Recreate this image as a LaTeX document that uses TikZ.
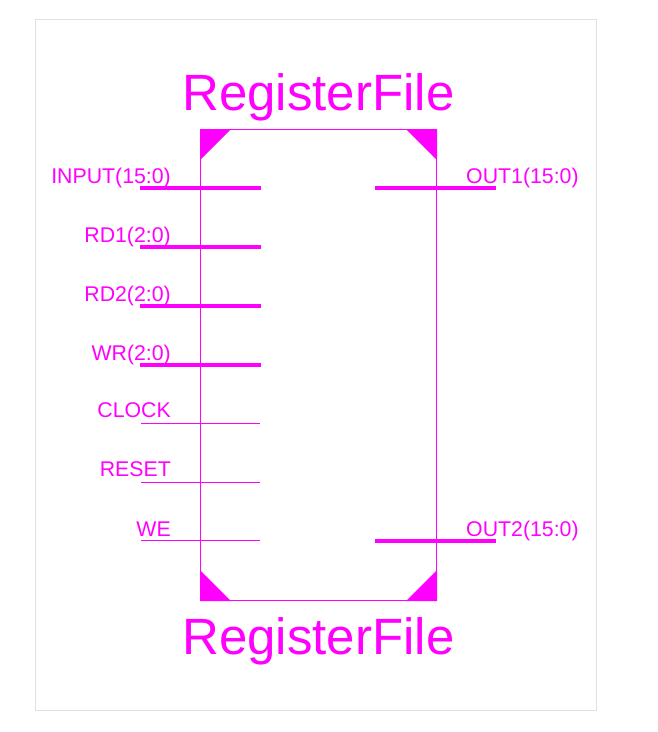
\documentclass[tikz,border=0pt]{standalone}
\usepackage{fontspec}
\setmainfont{Liberation Sans}
\usetikzlibrary{positioning}
\definecolor{sym}{RGB}{255,0,255}
\tikzset{
 body/.style
  = {rectangle, draw=sym, line width=1pt, minimum width=236pt, minimum height=471pt, inner sep=0pt},
 title/.style
  = {text=sym, font=\fontsize{51}{51}\selectfont, inner sep=0pt},
 lab/.style
  = {text=sym, font=\fontsize{21.3}{21.3}\selectfont, inner sep=0pt},
 lbus/.style
  = {draw=sym, line width=4pt},
 lbit/.style
  = {draw=sym, line width=1pt},
 corner/.style
  = {fill=sym}
}
\begin{document}
\begin{tikzpicture}[x=1pt,y=-1pt]
    \useasboundingbox (0,0) rectangle (657,732);
    \node [draw=black!12, line width=1pt, minimum width=561pt, minimum height=691pt, inner sep=0pt] (sheet) at (316,364.5) {};
    \node [body] (reg) at (318.5,365) {};
    \node [title, anchor=base] (top) at (318.5,110) {RegisterFile};
    \node [title, anchor=base] (bottom) at (318.5,654) {RegisterFile};

    \fill [corner] (reg.north west) -- ++(31,0) -- ++(-31,31) -- cycle;
    \fill [corner] (reg.north east) -- ++(-31,0) -- ++(31,31) -- cycle;
    \fill [corner] (reg.south west) -- ++(31,0) -- ++(-31,-31) -- cycle;
    \fill [corner] (reg.south east) -- ++(-31,0) -- ++(31,-31) -- cycle;

    \node [lab, anchor=base east] (input) at (171,183) {INPUT(15:0)};
    \node [lab, anchor=base east] (rd1) at (171,242) {RD1(2:0)};
    \node [lab, anchor=base east] (rd2) at (171,301) {RD2(2:0)};
    \node [lab, anchor=base east] (wr) at (171,360.5) {WR(2:0)};
    \node [lab, anchor=base east] (clock) at (171,417.5) {CLOCK};
    \node [lab, anchor=base east] (reset) at (171,476.5) {RESET};
    \node [lab, anchor=base east] (we) at (171,536) {WE};
    \node [lab, anchor=base west] (out1) at (466,183) {OUT1(15:0)};
    \node [lab, anchor=base west] (out2) at (466,536) {OUT2(15:0)};

    \coordinate (inputa) at (140,188);
    \coordinate (inputb) at (261,188);
    \coordinate (rd1a) at (140,247);
    \coordinate (rd1b) at (261,247);
    \coordinate (rd2a) at (140,306);
    \coordinate (rd2b) at (261,306);
    \coordinate (wra) at (140,365);
    \coordinate (wrb) at (261,365);
    \coordinate (clocka) at (141,423.5);
    \coordinate (clockb) at (260,423.5);
    \coordinate (reseta) at (141,482.5);
    \coordinate (resetb) at (260,482.5);
    \coordinate (wea) at (141,540.5);
    \coordinate (web) at (260,540.5);
    \coordinate (out1a) at (375,188);
    \coordinate (out1b) at (496,188);
    \coordinate (out2a) at (375,541);
    \coordinate (out2b) at (496,541);

    \path [lbus] (inputa) -- (inputb);
    \path [lbus] (rd1a) -- (rd1b);
    \path [lbus] (rd2a) -- (rd2b);
    \path [lbus] (wra) -- (wrb);
    \path [lbit] (clocka) -- (clockb);
    \path [lbit] (reseta) -- (resetb);
    \path [lbit] (wea) -- (web);
    \path [lbus] (out1a) -- (out1b);
    \path [lbus] (out2a) -- (out2b);
\end{tikzpicture}
\end{document}
